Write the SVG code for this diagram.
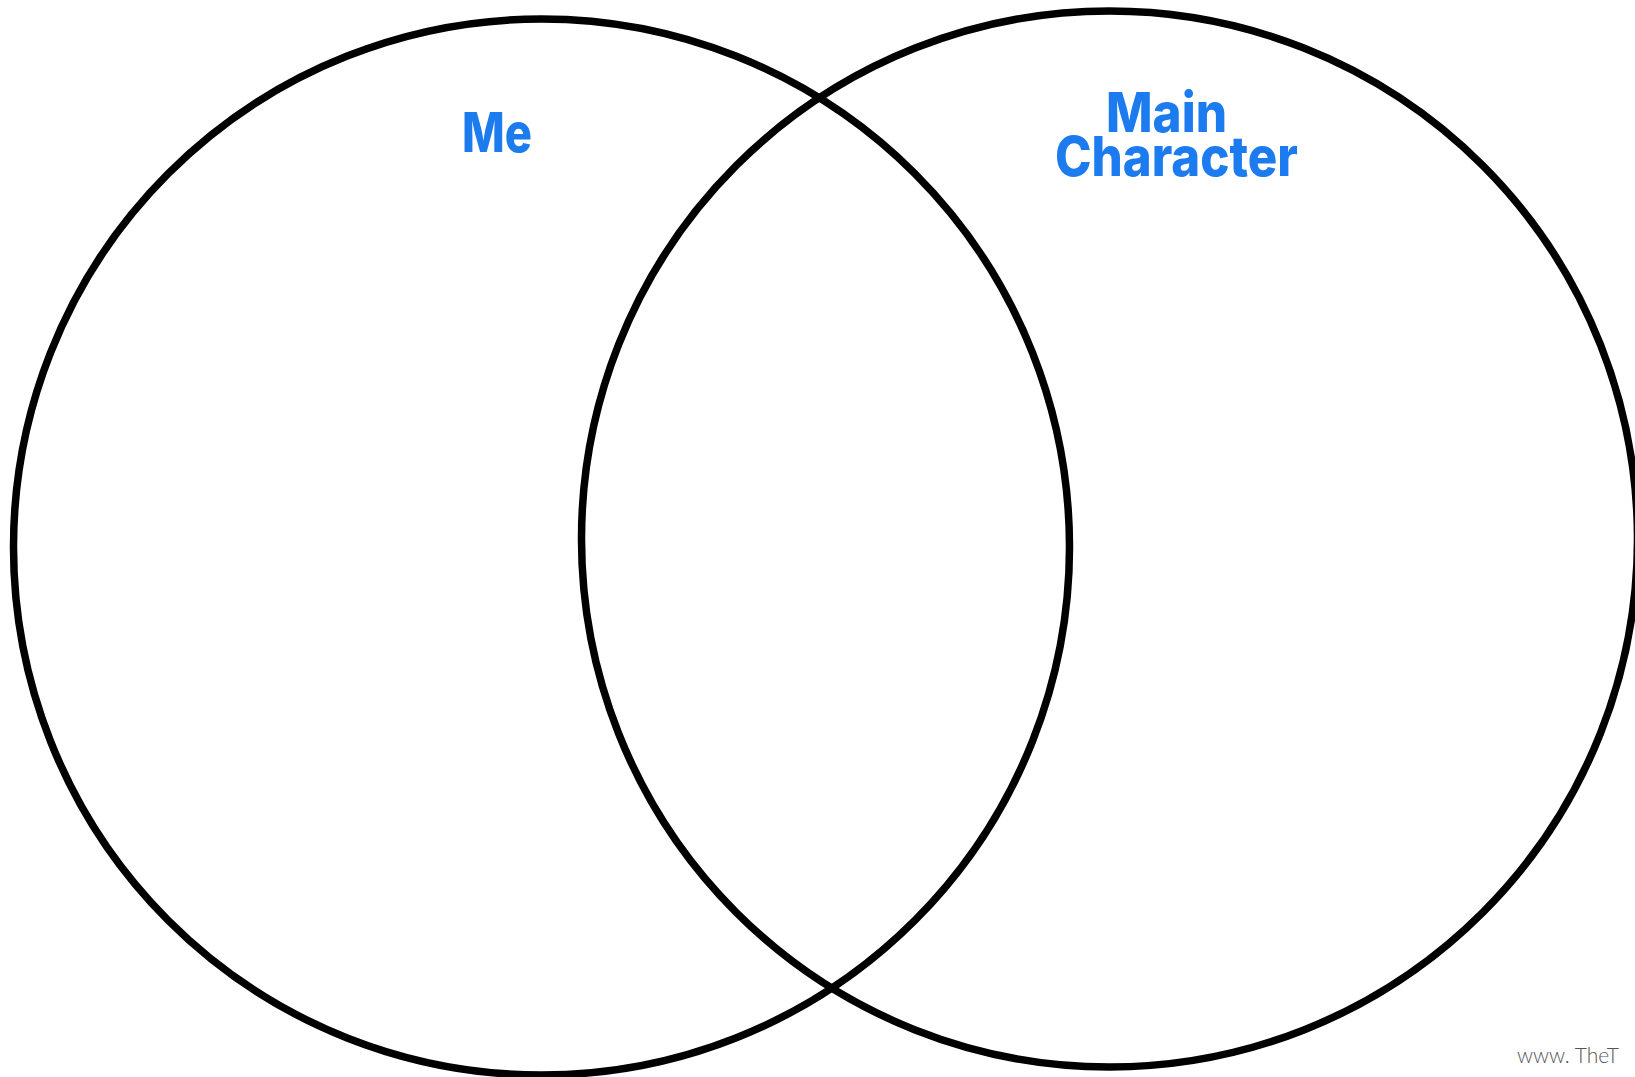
<svg xmlns="http://www.w3.org/2000/svg" width="1635" height="1077" viewBox="0 0 1635 1077">
<style>
.ring{fill:none;stroke:#000;stroke-width:7.5}
.title{font-family:Inter,"Noto Sans",sans-serif;font-weight:800;fill:#1b7bef;font-size:55px}
.mark{font-family:Lato,"Noto Sans",sans-serif;font-weight:300;fill:#555;font-size:21px}
</style>
<rect width="1635" height="1077" fill="#fff"/>
<g id="me">
<circle class="ring" cx="541.5" cy="547" r="528"/>
<text class="title" x="462" y="152" textLength="70" lengthAdjust="spacingAndGlyphs">Me</text>
</g>
<g id="main-character">
<circle class="ring" cx="1109.5" cy="539" r="528"/>
<text class="title" x="1106" y="132" textLength="121" lengthAdjust="spacingAndGlyphs">Main</text>
<text class="title" x="1055" y="176" textLength="243" lengthAdjust="spacingAndGlyphs">Character</text>
</g>
<g id="connectors"/>
<text class="mark" x="1517" y="1063">www. TheT</text>
</svg>
